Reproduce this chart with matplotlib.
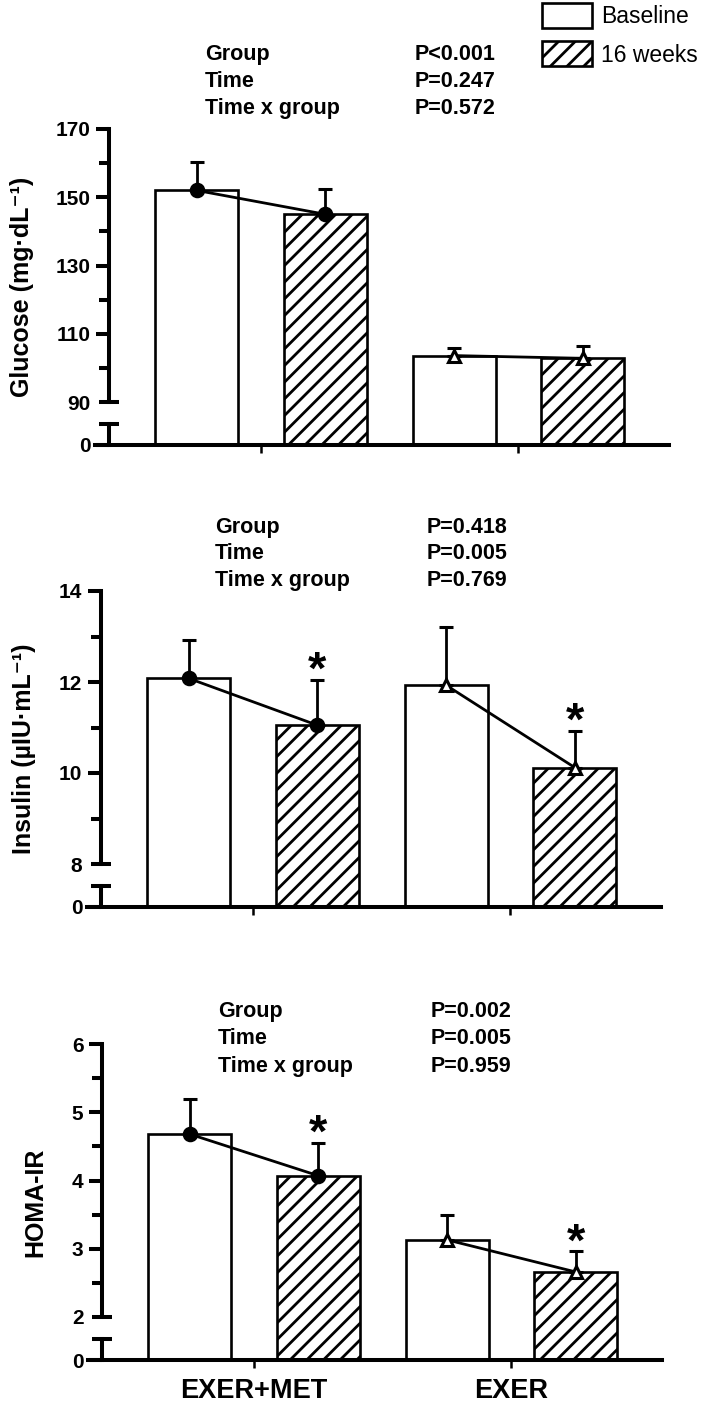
import numpy as np
import matplotlib
matplotlib.use("Agg")
import matplotlib.pyplot as plt

plt.rcParams['font.family'] = ['Liberation Sans', 'DejaVu Sans']
plt.rcParams['font.weight'] = 'bold'
plt.rcParams['hatch.linewidth'] = 2.0

# data
groups = ['EXER+MET', 'EXER']
timepoints = ['Baseline', '16 weeks']
effects = ['Group', 'Time', 'Time x group']

glucose_base = [152.0, 103.6]
glucose_base_se = [8.3, 2.3]
glucose_16wk = [145.0, 102.8]
glucose_16wk_se = [7.4, 3.7]
glucose_stars = [False, False]
glucose_p = ['P<0.001', 'P=0.247', 'P=0.572']

insulin_base = [12.08, 11.93]
insulin_base_se = [0.85, 1.28]
insulin_16wk = [11.05, 10.12]
insulin_16wk_se = [1.0, 0.81]
insulin_stars = [True, True]
insulin_p = ['P=0.418', 'P=0.005', 'P=0.769']

homa_base = [4.68, 3.13]
homa_base_se = [0.52, 0.37]
homa_16wk = [4.07, 2.66]
homa_16wk_se = [0.48, 0.30]
homa_stars = [True, True]
homa_p = ['P=0.002', 'P=0.005', 'P=0.959']

W, H = 709, 1402
UP_PX, LOW_PX = 273, 43
AX_W = 574
XLIM = (-0.79, 3.67)
SPINE_X = -0.68
LW = 2.9

panels = [
    dict(base=glucose_base, base_se=glucose_base_se, wk=glucose_16wk, wk_se=glucose_16wk_se,
         stars=glucose_stars, p=glucose_p, lo=90, hi=170,
         major=[0, 90, 110, 130, 150, 170], minor=[100, 120, 140, 160],
         ylabel='Glucose (mg·dL⁻¹)', left=95, top=129, ylab_x=22,
         txt_x=205, p_x=415, txt_y=[52, 79, 106]),
    dict(base=insulin_base, base_se=insulin_base_se, wk=insulin_16wk, wk_se=insulin_16wk_se,
         stars=insulin_stars, p=insulin_p, lo=8, hi=14,
         major=[0, 8, 10, 12, 14], minor=[9, 11, 13],
         ylabel='Insulin (µIU·mL⁻¹)', left=87, top=591, ylab_x=24,
         txt_x=215, p_x=427, txt_y=[525, 551.5, 578]),
    dict(base=homa_base, base_se=homa_base_se, wk=homa_16wk, wk_se=homa_16wk_se,
         stars=homa_stars, p=homa_p, lo=2, hi=6,
         major=[0, 2, 3, 4, 5, 6], minor=[2.5, 3.5, 4.5, 5.5],
         ylabel='HOMA-IR', left=88, top=1044, ylab_x=35,
         txt_x=218, p_x=431, txt_y=[1009.5, 1036.7, 1064]),
]


def make_scale(lo, hi):
    s = (hi - lo) * LOW_PX / UP_PX

    def fwd(v):
        v = np.asarray(v, dtype=float)
        return np.where(v < lo, v / lo * s, s + (v - lo))

    def inv(t):
        t = np.asarray(t, dtype=float)
        return np.where(t < s, t / s * lo, lo + (t - s))
    return fwd, inv


fig = plt.figure(figsize=(W / 100, H / 100), dpi=100)

x_base = np.array([0, 2])
x_wk = np.array([1, 3])
markers = ['o', '^']
mfc = ['black', 'white']
msz = [9, 8]

bars = None
for i, p in enumerate(panels):
    bottom_px = p['top'] + UP_PX + LOW_PX
    ax = fig.add_axes([p['left'] / W, 1 - bottom_px / H, AX_W / W, (UP_PX + LOW_PX) / H])
    ax.set_yscale('function', functions=make_scale(p['lo'], p['hi']))
    ax.set_ylim(0, p['hi'])
    ax.set_xlim(*XLIM)

    b1 = ax.bar(x_base, p['base'], width=0.645, color='white', edgecolor='black',
                linewidth=1.9, label=timepoints[0], zorder=2)
    b2 = ax.bar(x_wk, p['wk'], width=0.645, color='white', edgecolor='black',
                linewidth=1.9, hatch='//', label=timepoints[1], zorder=2)
    if bars is None:
        bars = (b1, b2)

    for g in range(2):
        xs = [x_base[g], x_wk[g]]
        ys = [p['base'][g], p['wk'][g]]
        ses = [p['base_se'][g], p['wk_se'][g]]
        ax.errorbar(xs, ys, yerr=[[0, 0], ses], fmt='none', ecolor='black',
                    elinewidth=2, capsize=5, capthick=2.2, zorder=3)
        ax.plot(xs, ys, color='black', lw=2, marker=markers[g], ms=msz[g],
                mfc=mfc[g], mec='black', mew=2.2, zorder=4)
        if p['stars'][g]:
            em = 34 * 100 / 72
            off = (22 - 0.556 * em) * 72 / 100
            ax.annotate('*', (x_wk[g], p['wk'][g] + p['wk_se'][g]), xytext=(0, off),
                        textcoords='offset points', ha='center', va='baseline',
                        fontsize=34, fontweight='bold')

    # axes styling
    for s in ['top', 'right']:
        ax.spines[s].set_visible(False)
    ax.spines['left'].set_bounds(p['lo'], p['hi'])
    ax.spines['left'].set_position(('data', SPINE_X))
    ax.spines['left'].set_linewidth(LW)
    ax.spines['bottom'].set_linewidth(LW)
    ax.set_yticks(p['major'])
    ax.set_yticklabels([str(v) for v in p['major']])
    ax.set_yticks(p['minor'], minor=True)
    ax.tick_params(axis='y', which='major', length=9.5, width=LW, labelsize=15, pad=4)
    ax.tick_params(axis='y', which='minor', length=7, width=LW)
    ax.yaxis.get_major_ticks()[1].tick1line.set_visible(False)

    # axis break
    cap = p['lo'] * 0.48
    for yv in (p['lo'], cap):
        ax.plot([SPINE_X - 0.08, SPINE_X + 0.08], [yv, yv], color='black', lw=LW,
                solid_capstyle='butt', clip_on=False, zorder=5)
    ax.plot([SPINE_X, SPINE_X], [0, cap], color='black', lw=LW, clip_on=False, zorder=5)

    ax.set_xticks([0.5, 2.5])
    ax.tick_params(axis='x', length=6, width=1.8, pad=7, labelsize=19.5)
    if i == 2:
        ax.set_xticklabels(groups)
    else:
        ax.set_xticklabels(['', ''])

    fig.text(p['ylab_x'] / W, 1 - (p['top'] + (UP_PX + LOW_PX) / 2) / H, p['ylabel'],
             rotation=90, ha='center', va='center', fontsize=18, fontweight='bold')

    em = 15.5 * 100 / 72
    for k in range(3):
        yb = p['txt_y'][k] + 0.358 * em
        fig.text(p['txt_x'] / W, 1 - yb / H, effects[k], ha='left', va='baseline',
                 fontsize=15.5, fontweight='bold')
        fig.text(p['p_x'] / W, 1 - yb / H, p['p'][k], ha='left', va='baseline',
                 fontsize=15.5, fontweight='bold')

fs = 16.5
fs_px = fs * 100 / 72
fig.legend(handles=list(bars), labels=timepoints, loc='upper left',
           bbox_to_anchor=(542 / W, 1 - 3 / H), frameon=False, borderpad=0,
           borderaxespad=0, handlelength=50 / fs_px, handleheight=30 / fs_px,
           handletextpad=0.4, labelspacing=0.57,
           prop={'size': fs, 'weight': 'normal'})

fig.savefig('out.png', dpi=100)
